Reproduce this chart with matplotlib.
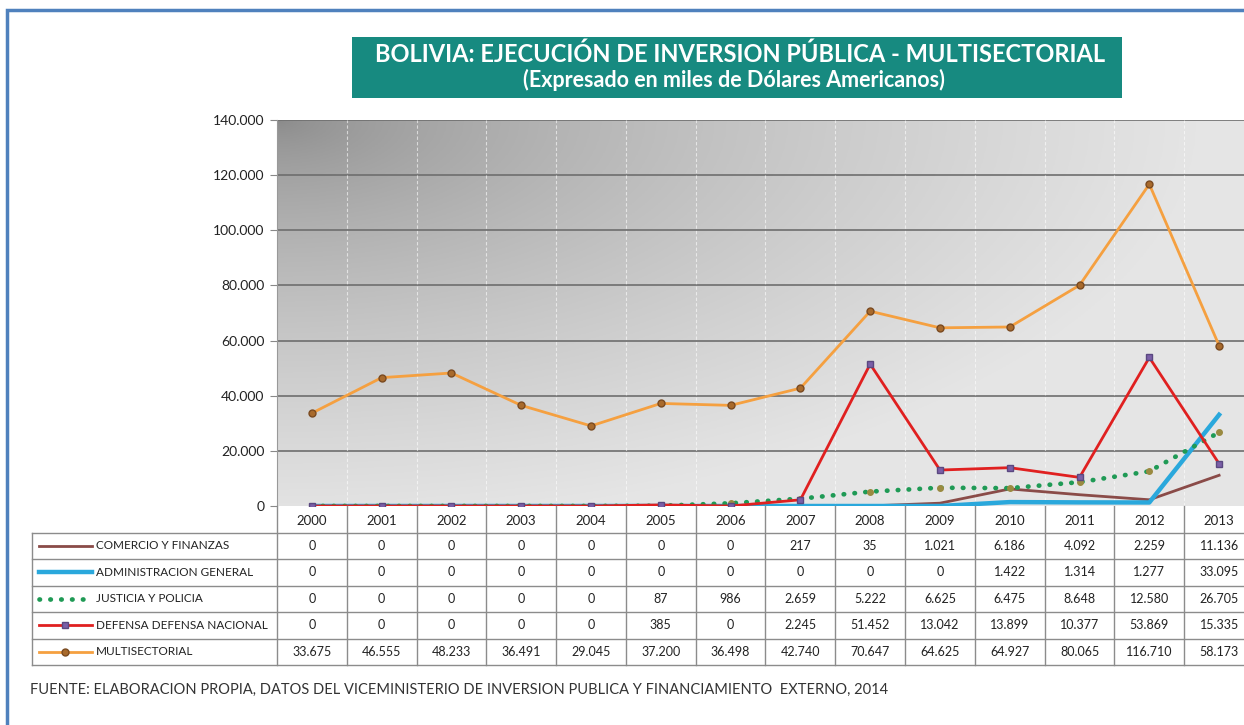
import numpy as np
import matplotlib
matplotlib.use("Agg")
from matplotlib import pyplot as plt
from matplotlib.patches import Rectangle
from matplotlib.lines import Line2D

plt.rcParams['font.family'] = ['Lato', 'DejaVu Sans']

# datos (miles de USD)
years = ["2000", "2001", "2002", "2003", "2004", "2005", "2006",
         "2007", "2008", "2009", "2010", "2011", "2012", "2013"]
comercio = [0, 0, 0, 0, 0, 0, 0, 217, 35, 1021, 6186, 4092, 2259, 11136]
administracion = [0, 0, 0, 0, 0, 0, 0, 0, 0, 0, 1422, 1314, 1277, 33095]
justicia = [0, 0, 0, 0, 0, 87, 986, 2659, 5222, 6625, 6475, 8648, 12580, 26705]
defensa = [0, 0, 0, 0, 0, 385, 0, 2245, 51452, 13042, 13899, 10377, 53869, 15335]
multisectorial = [33675, 46555, 48233, 36491, 29045, 37200, 36498,
                  42740, 70647, 64625, 64927, 80065, 116710, 58173]
series_names = ["COMERCIO Y FINANZAS", "ADMINISTRACION GENERAL",
                "JUSTICIA Y POLICIA", "DEFENSA DEFENSA NACIONAL", "MULTISECTORIAL"]
y_ticks = [0, 20000, 40000, 60000, 80000, 100000, 120000, 140000]

series = [comercio, administracion, justicia, defensa, multisectorial]
# estilo de cada serie
styles = [
    dict(color="#8a4b48", lw=2.0, ls="-", marker=None),
    dict(color="#2aa8dc", lw=3.2, ls="-", marker=None),
    dict(color="#1f9a55", lw=3.4, ls=(0, (0.1, 2.2)), marker="o", mfc="#9a8a40", mec="#9a8a40", ms=4),
    dict(color="#e02020", lw=2.0, ls="-", marker="s", mfc="#7b5fa8", mec="#5a4880", ms=5),
    dict(color="#f5a040", lw=2.0, ls="-", marker="o", mfc="#a86a2c", mec="#7a4a20", ms=5),
]


def fmt(v):
    return "{:,}".format(int(v)).replace(",", ".")


W, H = 1244, 725
fig = plt.figure(figsize=(W / 100, H / 100), dpi=100)
fig.patch.set_facecolor("white")

# marco azul
fig.add_artist(Rectangle((7 / W, -0.1), 1.2, 1 - 10 / H + 0.1, transform=fig.transFigure,
                         fill=False, edgecolor="#4f81bd", lw=2.5))

# titulo
fig.add_artist(Rectangle((352 / W, 1 - 98 / H), 770 / W, 61 / H, transform=fig.transFigure,
                         facecolor="#178a80", edgecolor="none"))
fig.text(740 / W, 1 - 54 / H, "BOLIVIA: EJECUCIÓN DE INVERSION PÚBLICA - MULTISECTORIAL",
         color="white", fontsize=17, fontweight="bold", ha="center", va="center")
fig.text(734 / W, 1 - 80 / H, "(Expresado en miles de Dólares Americanos)",
         color="white", fontsize=15.5, fontweight="bold", ha="center", va="center")

# eje principal
x0, x1 = 277, 1254
y_top, y_zero = 120, 506
ax = fig.add_axes([x0 / W, 1 - y_zero / H, (x1 - x0) / W, (y_zero - y_top) / H])
xs = np.arange(len(years))
ax.set_xlim(-0.5, len(years) - 0.5)
ax.set_ylim(0, 140000)

# fondo degradado
gx, gy = np.meshgrid(np.linspace(0, 1, 300), np.linspace(0, 1, 200))
t = np.clip(np.sqrt((gx * 1.0) ** 2 + (gy * 0.9) ** 2) / 0.95, 0, 1)
val = 0.54 + 0.36 * t ** 0.65
ax.imshow(np.dstack([val, val, val]), extent=[0, 1, 0, 1], transform=ax.transAxes,
          aspect="auto", zorder=0, origin="upper")

for yt in y_ticks[1:]:
    ax.axhline(yt, color="#6e6e6e", lw=1.2, zorder=1)
for k in range(len(years) - 1):
    ax.axvline(k + 0.5, color="white", lw=0.8, ls=(0, (3, 2)), zorder=1, alpha=0.6)

for vals, st in zip(series, styles):
    kw = dict(st)
    if kw["marker"] is None:
        kw.pop("marker")
    if st is styles[2]:
        ax.plot(xs, vals, color=st["color"], lw=st["lw"], ls=st["ls"],
                dash_capstyle="round", zorder=3)
        ax.plot(xs, vals, ls="none", marker="o", mfc=st["mfc"], mec=st["mec"], ms=st["ms"], zorder=3)
    else:
        ax.plot(xs, vals, zorder=3, **kw)

ax.set_yticks(y_ticks)
ax.set_yticklabels([fmt(v) for v in y_ticks], fontsize=10, color="#222222")
ax.set_xticks([])
ax.tick_params(axis="y", length=5, color="#888888", pad=4)
for s in ["top", "right", "bottom"]:
    ax.spines[s].set_visible(False)
ax.spines["left"].set_color("#999999")

# tabla de datos
tl, row_h = 32, 26.5
n_rows = len(series_names)
col_w = (x1 - x0) / len(years)
tax = fig.add_axes([tl / W, 1 - (y_zero + row_h * (n_rows + 1)) / H,
                    (x1 - tl) / W, row_h * (n_rows + 1) / H])
lab_units = (x0 - tl) / col_w
tax.set_xlim(-0.5 - lab_units, len(years) - 0.5)
tax.set_ylim(n_rows + 1, 0)
tax.axis("off")
grid_c = "#8c8c8c"
# lineas horizontales
for r in range(1, n_rows + 2):
    tax.plot([-0.5 - lab_units, len(years) - 0.5], [r, r], color=grid_c, lw=1, clip_on=False)
# lineas verticales
tax.plot([-0.5 - lab_units] * 2, [1, n_rows + 1], color=grid_c, lw=1, clip_on=False)
for k in range(len(years) + 1):
    tax.plot([k - 0.5] * 2, [0, n_rows + 1], color=grid_c, lw=1, clip_on=False)
for k, yr in enumerate(years):
    tax.text(k, 0.55, yr, ha="center", va="center", fontsize=9.5, color="#222222")
for r, (name, vals, st) in enumerate(zip(series_names, series, styles)):
    yc = r + 1.5
    lx0 = -0.5 - lab_units + 7 / col_w
    lx1 = -0.5 - lab_units + 60 / col_w
    if r == 2:
        tax.add_line(Line2D([lx0, lx1], [yc, yc], color=st["color"], lw=3.4,
                            ls=(0, (0.1, 2.2)), dash_capstyle="round"))
    else:
        tax.add_line(Line2D([lx0, lx1], [yc, yc], color=st["color"], lw=st["lw"]))
        if st["marker"]:
            tax.plot([(lx0 + lx1) / 2], [yc], marker=st["marker"], mfc=st["mfc"],
                     mec=st["mec"], ms=st["ms"])
    tax.text(-0.5 - lab_units + 64 / col_w, yc, name, ha="left", va="center",
             fontsize=8.5, color="#222222")
    for k, v in enumerate(vals):
        tax.text(k, yc, fmt(v), ha="center", va="center", fontsize=9, color="#222222")

fig.text(30 / W, 1 - 690 / H,
         "FUENTE: ELABORACION PROPIA, DATOS DEL VICEMINISTERIO DE INVERSION PUBLICA Y FINANCIAMIENTO  EXTERNO, 2014",
         fontsize=10.5, color="#333333", ha="left", va="center")

fig.savefig("out.png", dpi=100)
